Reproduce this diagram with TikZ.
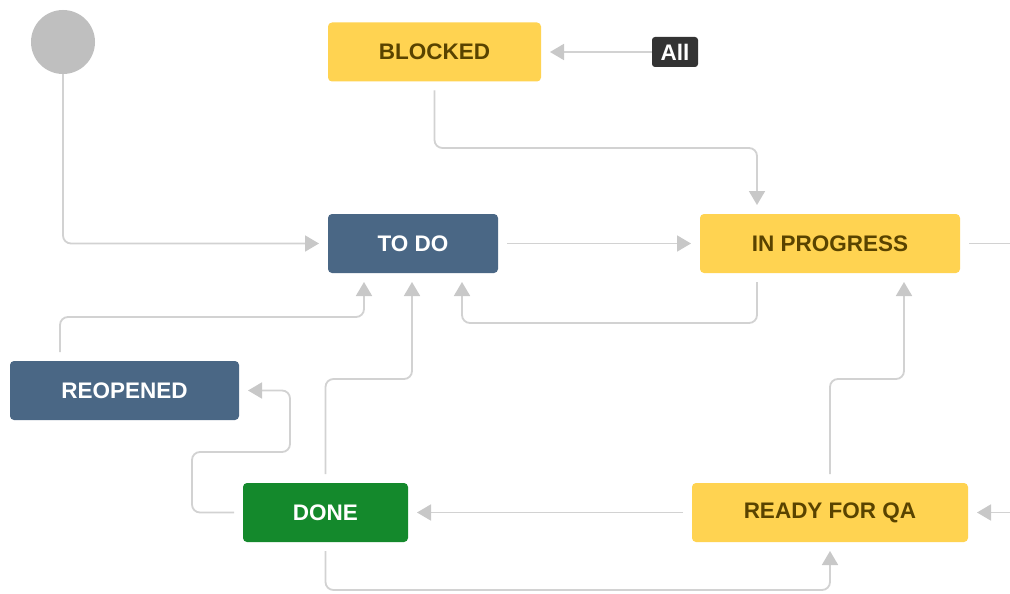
\documentclass[tikz,border=0pt]{standalone}
\usepackage{fontspec}
\setmainfont{Liberation Sans}
\usetikzlibrary{arrows.meta}
\definecolor{jyellow}{HTML}{FFD351}
\definecolor{jytext}{HTML}{594300}
\definecolor{jblue}{HTML}{4A6785}
\definecolor{jgreen}{HTML}{14892C}
\definecolor{jdark}{HTML}{333333}
\definecolor{jline}{HTML}{D2D2D2}
\definecolor{jtip}{HTML}{C8C8C8}
\definecolor{jstart}{HTML}{BFBFBF}
\tikzset{
  state/.style={rectangle, rounded corners=4pt, minimum height=59pt, inner sep=0pt,
    outer sep=9pt, font=\fontsize{22.5}{26}\selectfont\bfseries},
  ystate/.style={state, fill=jyellow, text=jytext},
  bstate/.style={state, fill=jblue, text=white},
  gstate/.style={state, fill=jgreen, text=white},
  conn/.style={draw=jline, line width=1.8pt, rounded corners=8pt,
    -{Triangle[length=14pt,width=16pt,color=jtip]}},
  plain/.style={draw=jline, line width=1.8pt, rounded corners=8pt},
}
\begin{document}
\begin{tikzpicture}[x=1pt,y=-1pt]
\useasboundingbox[fill=white] (0,0) rectangle (1010,594);

\node[circle, fill=jstart, minimum size=64pt, inner sep=0pt] (start) at (63,42) {};
\node[ystate, minimum width=213pt] (blocked) at (434.5,52) {BLOCKED};
\node[rectangle, rounded corners=3pt, fill=jdark, text=white, minimum width=46pt,
  minimum height=30pt, inner sep=0pt, font=\fontsize{22.5}{26}\selectfont\bfseries] (all) at (675,52) {All};
\node[bstate, minimum width=170pt] (todo) at (413,243.5) {TO DO};
\node[ystate, minimum width=260pt] (inprog) at (830,243.5) {IN PROGRESS};
\node[bstate, minimum width=229pt] (reopened) at (124.5,390.5) {REOPENED};
\node[gstate, minimum width=165pt] (done) at (325.5,512.5) {DONE};
\node[ystate, minimum width=276pt] (rqa) at (830,512.5) {READY FOR QA};

\coordinate (outr) at (1010,243.5);
\coordinate (inr) at (1010,512.5);

% start -> to do
\draw[conn] (start.south) |- (todo.west);
% all -> blocked
\draw[conn] (all.west) -- (blocked.east);
% blocked -> in progress
\draw[conn] (blocked.south) |- (757,148) -- (757,148 |- inprog.north);
% to do -> in progress
\draw[conn] (todo.east) -- (inprog.west);
% in progress -> off the right edge
\draw[plain] (inprog.east) -- (outr);
% in progress -> to do
\draw[conn] (757,0 |- inprog.south) -- (757,323) -| (462,0 |- todo.south);
% reopened -> to do
\draw[conn] (60,0 |- reopened.north) -- (60,317) -| (364,0 |- todo.south);
% done -> to do
\draw[conn] (done.north) |- (412,379) -- (412,0 |- todo.south);
% done -> reopened
\draw[conn] (done.west) -- (192,512.5) |- (290,452) |- (reopened.east);
% ready for qa -> done
\draw[conn] (rqa.west) -- (done.east);
% ready for qa -> in progress
\draw[conn] (rqa.north) |- (904,379) -- (904,0 |- inprog.south);
% incoming from the right -> ready for qa
\draw[conn] (inr) -- (rqa.east);
% done -> ready for qa
\draw[conn] (done.south) -- (325.5,590) -| (rqa.south);
\end{tikzpicture}
\end{document}
